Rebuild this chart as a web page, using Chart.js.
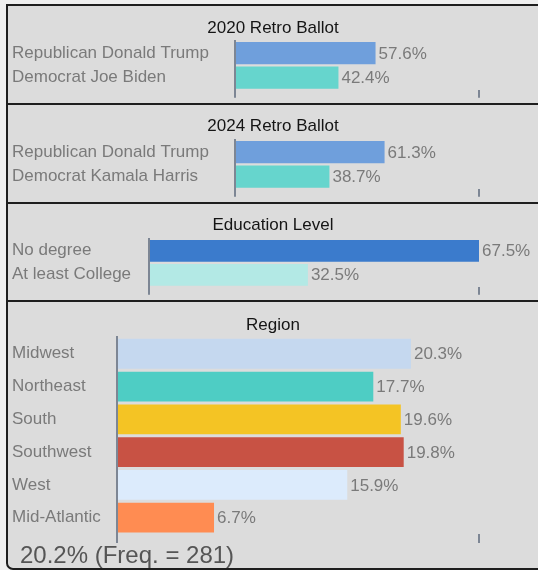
<!DOCTYPE html>
<html>
<head>
<meta charset="utf-8">
<script src="https://cdn.jsdelivr.net/npm/chart.js@4.4.1/dist/chart.umd.min.js"></script>
<style>
    body { margin: 0; background: #efefef; width: 538px; height: 570px; overflow: hidden; position: relative; font-family: "Liberation Sans", Arial, sans-serif; }
    .panel { position: absolute; left: 6px; width: 540px; background: #dcdcdc; border: 2px solid #1e1e1e; box-sizing: border-box; }
    .panel canvas { display: block; }
    #footer { position: absolute; left: 20px; top: 541px; font-size: 24px; color: #555; line-height: 28px; }
</style>
</head>
<body>
<div class="panel" style="top:4px;height:101px"><canvas id="c2020" width="530" height="97"></canvas></div>
<div class="panel" style="top:103px;height:101px"><canvas id="c2024" width="530" height="97"></canvas></div>
<div class="panel" style="top:202px;height:100px"><canvas id="cEdu" width="530" height="96"></canvas></div>
<div class="panel" style="top:300px;height:270px;border-bottom-left-radius:7px"><canvas id="cRegion" width="530" height="266"></canvas></div>
<div id="footer">20.2% (Freq. = 281)</div>
<script>
// data
const ballot2020Labels = ['Republican Donald Trump', 'Democrat Joe Biden'];
const ballot2020Values = [57.6, 42.4];
const ballot2024Labels = ['Republican Donald Trump', 'Democrat Kamala Harris'];
const ballot2024Values = [61.3, 38.7];
const educationLabels = ['No degree', 'At least College'];
const educationValues = [67.5, 32.5];
const regionLabels = ['Midwest', 'Northeast', 'South', 'Southwest', 'West', 'Mid-Atlantic'];
const regionValues = [20.3, 17.7, 19.6, 19.8, 15.9, 6.7];

const axisColor = '#7d8694';
const fontFamily = '"Liberation Sans", Arial, sans-serif';

// draws "57.6%" just past the end of each bar
const valueLabels = {
    id: 'valueLabels',
    afterDatasetsDraw(chart) {
        const ctx = chart.ctx;
        const ds = chart.data.datasets[0];
        ctx.save();
        ctx.font = '17px ' + fontFamily;
        ctx.fillStyle = '#7a7a7a';
        ctx.textAlign = 'left';
        ctx.textBaseline = 'middle';
        chart.getDatasetMeta(0).data.forEach((bar, i) => {
            ctx.fillText(ds.data[i].toFixed(1) + '%', bar.x + 3, bar.y + 1);
        });
        ctx.restore();
    }
};

// title centred on the whole panel, not just the plot
const wideTitle = {
    id: 'wideTitle',
    afterLayout(chart) {
        const t = chart.titleBlock;
        if (t) {
            t.left = 0;
            t.right = chart.width;
            t.width = chart.width;
        }
    }
};

function makePanel(id, title, labels, values, colors, xMax, yWidth, pad) {
    const ctx = document.getElementById(id).getContext('2d');
    return new Chart(ctx, {
        type: 'bar',
        data: {
            labels: labels,
            datasets: [{
                data: values,
                backgroundColor: colors,
                borderWidth: 0,
                categoryPercentage: 1,
                barPercentage: 0.91
            }]
        },
        options: {
            indexAxis: 'y',
            responsive: false,
            animation: false,
            layout: {
                padding: { left: 4, right: 59, top: 0, bottom: pad.bottom }
            },
            plugins: {
                legend: { display: false },
                tooltip: { enabled: false },
                title: {
                    display: true,
                    text: title,
                    color: '#151515',
                    font: { family: fontFamily, size: 17, weight: 'normal', lineHeight: 1.2 },
                    padding: { top: pad.titleTop, bottom: pad.titleBottom }
                }
            },
            scales: {
                x: {
                    min: 0,
                    max: xMax,
                    border: { display: false },
                    grid: {
                        drawOnChartArea: false,
                        drawTicks: true,
                        tickLength: pad.tick,
                        color: axisColor,
                        lineWidth: 2
                    },
                    ticks: { display: false },
                    afterBuildTicks: scale => {
                        scale.ticks = [{ value: 0 }, { value: xMax }];
                    }
                },
                y: {
                    border: { display: true, color: axisColor, width: 2 },
                    grid: { display: false },
                    ticks: {
                        crossAlign: 'far',
                        color: '#7a7a7a',
                        font: { family: fontFamily, size: 17 }
                    },
                    afterFit: scale => {
                        scale.width = yWidth;
                    }
                }
            }
        },
        plugins: [valueLabels, wideTitle]
    });
}

makePanel('c2020', '2020 Retro Ballot', ballot2020Labels, ballot2020Values,
    ['#6f9fdc', '#66d5cd'], 100, 223,
    { titleTop: 12, titleBottom: 2.4, bottom: 5, tick: 8 });

makePanel('c2024', '2024 Retro Ballot', ballot2024Labels, ballot2024Values,
    ['#6f9fdc', '#66d5cd'], 100, 223,
    { titleTop: 11, titleBottom: 3.4, bottom: 4, tick: 8 });

makePanel('cEdu', 'Education Level', educationLabels, educationValues,
    ['#3b7bcc', '#b3e9e5'], 67.5, 137,
    { titleTop: 11, titleBottom: 3.4, bottom: 3, tick: 8 });

makePanel('cRegion', 'Region', regionLabels, regionValues,
    ['#c5d8ef', '#4ecdc4', '#f4c424', '#c85244', '#dcebfc', '#ff8c52'], 25, 105,
    { titleTop: 13, titleBottom: 2, bottom: 25, tick: 9 });
</script>
</body>
</html>
